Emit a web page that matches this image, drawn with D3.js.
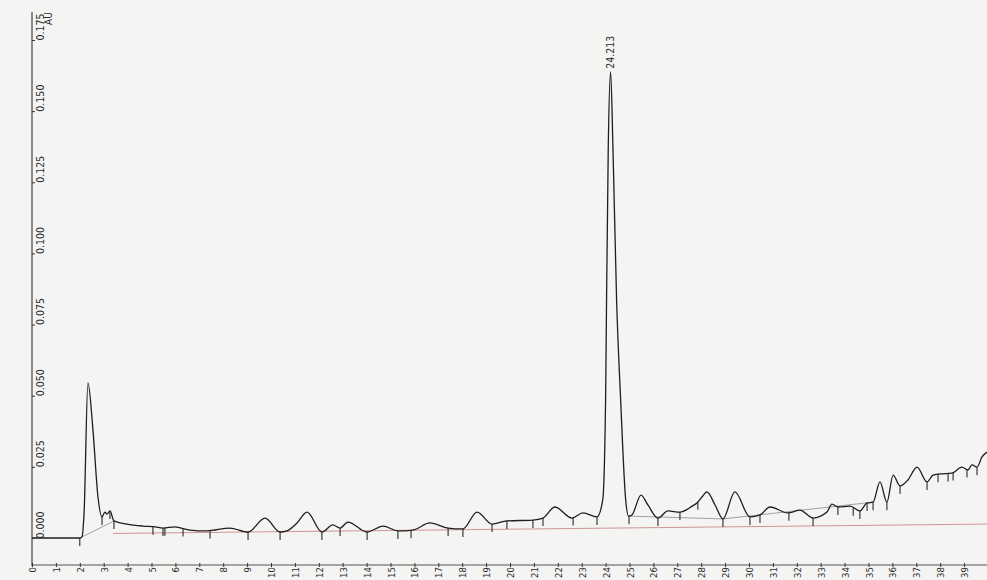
<!DOCTYPE html>
<html>
<head>
<meta charset="utf-8">
<script src="https://cdn.jsdelivr.net/npm/d3@7"></script>
<style>
  html, body { margin: 0; padding: 0; background: #f4f4f2; }
  svg { display: block; }
  text { font-family: "Liberation Sans Narrow", "DejaVu Sans Condensed", "Liberation Sans", sans-serif; fill: #2a2a2a; }
</style>
</head>
<body>
<svg id="chart" width="987" height="580"></svg>
<script>
// ---- data (retention time in minutes, absorbance in AU) ----
const retentionTimes = [0.00, 2.00, 2.09, 2.18, 2.34, 2.55, 2.76, 2.93, 3.05, 3.14, 3.26, 3.43, 3.97, 4.64, 5.15, 5.48, 5.98, 6.61, 7.32, 8.28,
  9.04, 9.75, 10.38, 10.67, 11.09, 11.51, 12.13, 12.59, 12.89, 13.22, 14.02, 14.69, 15.31, 15.94, 16.65, 17.41, 18.03, 18.62, 19.25, 19.87,
  20.96, 21.38, 21.88, 22.59, 23.05, 23.64, 23.88, 24.00, 24.04, 24.11, 24.21, 24.31, 24.46, 24.63, 24.84, 24.96, 25.10, 25.48, 25.77, 26.19,
  26.61, 27.11, 27.62, 27.82, 28.03, 28.24, 28.58, 28.91, 29.41, 30.04, 30.46, 30.88, 31.63, 32.13, 32.68, 33.26, 33.47, 33.72, 34.23, 34.64,
  34.94, 35.19, 35.48, 35.77, 36.03, 36.32, 36.65, 37.03, 37.45, 37.70, 37.99, 38.49, 38.91, 39.16, 39.33, 39.54, 39.75, 39.96];
const absorbance = [0, 0, 0.0004, 0.0091, 0.0545, 0.0380, 0.0144, 0.0074, 0.0091, 0.0084, 0.0095, 0.0060, 0.0049, 0.0042, 0.0039, 0.0035, 0.0039, 0.0028, 0.0025, 0.0035,
  0.0021, 0.0070, 0.0021, 0.0025, 0.0053, 0.0091, 0.0021, 0.0046, 0.0035, 0.0056, 0.0021, 0.0042, 0.0025, 0.0028, 0.0053, 0.0035, 0.0032, 0.0091, 0.0049, 0.0060,
  0.0063, 0.0070, 0.0109, 0.0070, 0.0088, 0.0074, 0.0134, 0.0485, 0.0836, 0.1363, 0.1638, 0.1363, 0.0836, 0.0485, 0.0134, 0.0077, 0.0081, 0.0151, 0.0116, 0.0070,
  0.0095, 0.0091, 0.0112, 0.0123, 0.0144, 0.0162, 0.0116, 0.0067, 0.0162, 0.0074, 0.0081, 0.0109, 0.0088, 0.0098, 0.0070, 0.0091, 0.0119, 0.0109, 0.0112, 0.0095,
  0.0123, 0.0126, 0.0197, 0.0126, 0.0221, 0.0183, 0.0204, 0.0249, 0.0197, 0.0221, 0.0225, 0.0228, 0.0249, 0.0239, 0.0257, 0.0249, 0.0285, 0.0302];

// peak start/end marks (drop lines), minutes
const dropTimes = [2.0, 2.93, 3.26, 3.43, 5.06, 5.48, 5.56, 6.32, 7.45, 9.04, 10.38, 12.13, 12.89, 14.02, 15.31, 15.86, 17.41, 18.03,
  19.25, 19.87, 20.96, 21.38, 22.64, 23.64, 24.98, 26.19, 27.11, 27.86, 28.91, 30.04, 30.46, 31.67, 32.68, 33.72, 34.36, 34.64,
  34.94, 35.19, 35.77, 36.32, 37.45, 37.91, 38.33, 38.54, 39.12, 39.54];

// integration baselines: [t0, v0, t1, v1]
const integrationBaselines = [[2.0, 0.0, 3.43, 0.0060], [24.98, 0.0077, 28.91, 0.0067], [28.91, 0.0067, 35.19, 0.0126]];
const referenceBaseline = [[3.4, 0.0016, 40, 0.0049]];

const peakLabels = [{ t: 24.21, v: 0.1638, text: "24.213" }];

const xTicks = d3.range(0, 40);
const yTicks = [0, 0.025, 0.05, 0.075, 0.1, 0.125, 0.15, 0.175];
const yUnit = "AU";

// ---- drawing ----
const svg = d3.select("#chart");
const x = d3.scaleLinear().domain([0, 40]).range([32, 988]);
const y = d3.scaleLinear().domain([0, 0.175]).range([538, 40]);

const trace = retentionTimes.map((t, i) => [t, absorbance[i]]);
function valueAt(t) {
  const i = d3.bisector(d => d[0]).left(trace, t);
  if (i <= 0) return trace[0][1];
  if (i >= trace.length) return trace[trace.length - 1][1];
  const a = trace[i - 1], b = trace[i];
  return a[1] + (b[1] - a[1]) * (t - a[0]) / (b[0] - a[0]);
}

// reference (red) baseline
svg.append("g").selectAll("line").data(referenceBaseline).join("line")
  .attr("x1", d => x(d[0])).attr("y1", d => y(d[1]))
  .attr("x2", d => x(d[2])).attr("y2", d => y(d[3]))
  .attr("stroke", "#c98a8a").attr("stroke-width", 0.9);

// integration baselines (gray)
svg.append("g").selectAll("line").data(integrationBaselines).join("line")
  .attr("x1", d => x(d[0])).attr("y1", d => y(d[1]))
  .attr("x2", d => x(d[2])).attr("y2", d => y(d[3]))
  .attr("stroke", "#8a8a8a").attr("stroke-width", 0.8);

// trace
const line = d3.line().x(d => x(d[0])).y(d => y(d[1])).curve(d3.curveMonotoneX);
svg.append("path").datum(trace)
  .attr("d", line).attr("fill", "none")
  .attr("stroke", "#1e1e1e").attr("stroke-width", 1.3).attr("stroke-linejoin", "round");

// drop lines
svg.append("g").selectAll("line").data(dropTimes).join("line")
  .attr("x1", d => x(d)).attr("x2", d => x(d))
  .attr("y1", d => y(valueAt(d)))
  .attr("y2", d => y(valueAt(d)) + 8)
  .attr("stroke", "#2a2a2a").attr("stroke-width", 1.1);

// peak labels
svg.append("g").selectAll("text").data(peakLabels).join("text")
  .attr("transform", d => `translate(${x(d.t) + 3},${y(d.v) - 3}) rotate(-90)`)
  .attr("text-anchor", "start")
  .style("font-size", "10.5px")
  .text(d => d.text);

// Y axis
const yAxisX = 32;
svg.append("line").attr("x1", yAxisX).attr("x2", yAxisX).attr("y1", 12).attr("y2", 566)
  .attr("stroke", "#333").attr("stroke-width", 1.1);
const yAxis = d3.axisRight(y).tickValues(yTicks).tickFormat(d3.format(".3f")).tickSize(3);
const yg = svg.append("g").attr("transform", `translate(${yAxisX},0)`).call(yAxis);
yg.select(".domain").remove();
yg.selectAll(".tick line").attr("stroke", "#333");
yg.selectAll(".tick text")
  .attr("x", null).attr("dy", null)
  .attr("transform", "translate(12,0) rotate(-90)")
  .attr("text-anchor", "start")
  .style("font-size", "10.5px").style("fill", "#2a2a2a");
svg.append("text")
  .attr("transform", `translate(${yAxisX + 20},${y(0.175) - 15}) rotate(-90)`)
  .attr("text-anchor", "start")
  .style("font-size", "10px")
  .text(yUnit);

// X axis
const xAxisY = 565;
const xAxis = d3.axisBottom(x).tickValues(xTicks).tickFormat(d3.format("d")).tickSize(3);
const xg = svg.append("g").attr("transform", `translate(0,${xAxisY})`).call(xAxis);
xg.select(".domain").attr("stroke", "#555").attr("d", `M${yAxisX},0H987`);
xg.selectAll(".tick line").attr("stroke", "#333").attr("y1", -2).attr("y2", 2);
xg.selectAll(".tick text")
  .attr("y", null).attr("dy", null)
  .attr("transform", "translate(3.5,2) rotate(-90)")
  .attr("text-anchor", "end")
  .style("font-size", "9.5px").style("fill", "#2a2a2a");
</script>
</body>
</html>
